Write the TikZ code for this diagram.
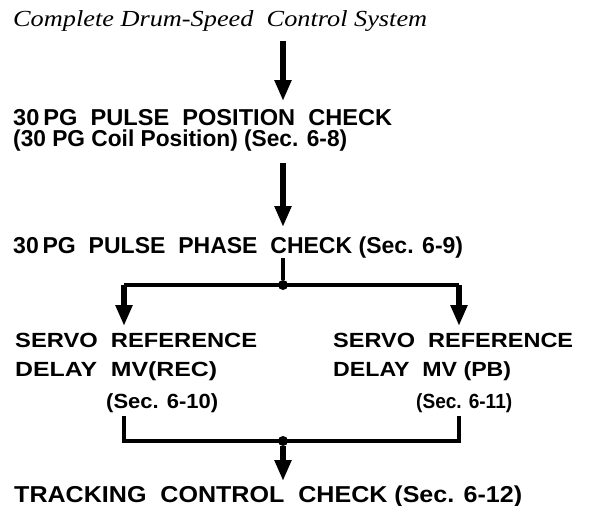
\documentclass[tikz,border=0pt]{standalone}
\usepackage{fontspec}
\usepackage{graphicx}
\setmainfont{Liberation Serif}
\newfontfamily\chkfont{Liberation Sans}
\usetikzlibrary{arrows.meta,positioning}
% stretch a line of text to the width it has in the drawing
\newcommand{\spread}[2]{\resizebox{#1pt}{\height}{#2}}

\begin{document}
\begin{tikzpicture}[
  x=1pt, y=-1pt,
  lbl/.style={anchor=base west, inner sep=0pt, font=\chkfont\bfseries\fontsize{23}{26}\selectfont},
  sublbl/.style={lbl, font=\chkfont\bfseries\fontsize{20.5}{24}\selectfont},
  ttl/.style={anchor=base west, inner sep=0pt, font=\itshape\fontsize{23}{26}\selectfont},
  flow/.style={line width=5.2pt, -{Triangle[width=16pt,length=21pt]}},
  wire/.style={line width=4.4pt},
  dot/.style={circle, fill, inner sep=0pt, minimum size=10pt}
]
  \useasboundingbox (0,0) rectangle (590,506);

  % texts
  \node[ttl] (sys) at (13,27) {\spread{414}{Complete Drum-Speed\ \ Control System}};
  \node[lbl] (pos) at (13,125) {\spread{379}{30\,PG\ \ PULSE\ \ POSITION\ \ CHECK}};
  \node[lbl] (coil) at (13,146) {\spread{334}{(30 PG Coil Position) (Sec. 6-8)}};
  \node[lbl] (phase) at (13,253) {\spread{450}{30\,PG\ \ PULSE\ \ PHASE\ \ CHECK (Sec. 6-9)}};
  \node[sublbl] (recA) at (15,347) {\spread{242}{SERVO\ \ REFERENCE}};
  \node[sublbl] (recB) at (15,376) {\spread{202}{DELAY\ \ MV(REC)}};
  \node[sublbl] (recC) at (106,408) {\spread{112}{(Sec. 6-10)}};
  \node[sublbl] (pbA) at (333,347) {\spread{240}{SERVO\ \ REFERENCE}};
  \node[sublbl] (pbB) at (333,376) {\spread{178}{DELAY\ \ MV (PB)}};
  \node[sublbl] (pbC) at (416,408) {\spread{96}{(Sec. 6-11)}};
  \node[lbl] (track) at (14,502) {\spread{508}{TRACKING\ \ CONTROL\ \ CHECK (Sec. 6-12)}};

  % ends of the lines
  \coordinate (sysOut) at (283,41);
  \coordinate (posIn) at (283,101);
  \coordinate (coilOut) at (283,163);
  \coordinate (phaseIn) at (283,227);
  \coordinate (phaseOut) at (283,258);
  \node[dot] (split) at (283,285) {};
  \coordinate (splitL) at (124,285);
  \coordinate (splitR) at (459,285);
  \coordinate (recIn) at (124,326);
  \coordinate (pbIn) at (459,326);
  \coordinate (recOut) at (124,416);
  \coordinate (pbOut) at (459,416);
  \node[dot] (merge) at (283,441) {};
  \coordinate (mergeL) at (124,441);
  \coordinate (mergeR) at (459,441);
  \coordinate (trackIn) at (283,481);

  % connectors
  \draw[flow] (sysOut) -- (posIn);
  \draw[flow] (coilOut) -- (phaseIn);
  \draw[wire] (phaseOut) -- (split);
  \draw[wire] (splitL) -- (splitR);
  \draw[flow] (splitL) -- (recIn);
  \draw[flow] (splitR) -- (pbIn);
  \draw[wire] (recOut) -- (mergeL) -- (mergeR) -- (pbOut);
  \draw[flow] (merge) -- (trackIn);
\end{tikzpicture}
\end{document}
